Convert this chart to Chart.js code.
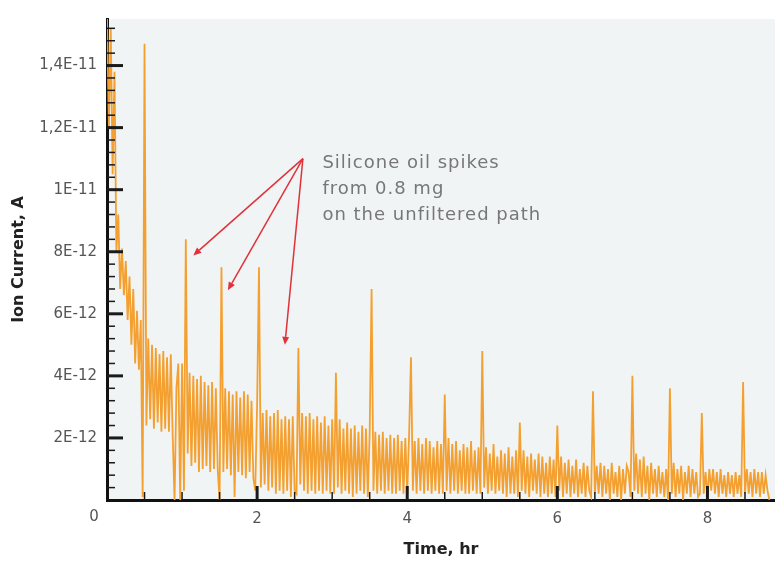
<!DOCTYPE html>
<html>
<head>
<meta charset="utf-8">
<script src="https://cdn.jsdelivr.net/npm/chart.js@4.4.1/dist/chart.umd.min.js"></script>
<style>
  body { margin: 0; background: #fff; }
</style>
</head>
<body>
<canvas id="ionChart" width="775" height="563"></canvas>
<script>
// time, hr (one row per half hour)
const times = [
  0,0.025,0.05,0.075,0.1,0.125,0.15,0.175,0.2,0.225,0.25,0.275,0.3,0.325,0.35,0.375,0.4,0.425,0.45,0.475,0.5,
  0.525,0.55,0.575,0.6,0.625,0.65,0.675,0.7,0.725,0.75,0.775,0.8,0.825,0.85,0.875,0.9,0.925,0.95,0.975,1,
  1.025,1.05,1.075,1.1,1.125,1.15,1.175,1.2,1.225,1.25,1.275,1.3,1.325,1.35,1.375,1.4,1.425,1.45,1.475,1.5,
  1.525,1.55,1.575,1.6,1.625,1.65,1.675,1.7,1.725,1.75,1.775,1.8,1.825,1.85,1.875,1.9,1.925,1.95,1.975,2,
  2.025,2.05,2.075,2.1,2.125,2.15,2.175,2.2,2.225,2.25,2.275,2.3,2.325,2.35,2.375,2.4,2.425,2.45,2.475,2.5,
  2.525,2.55,2.575,2.6,2.625,2.65,2.675,2.7,2.725,2.75,2.775,2.8,2.825,2.85,2.875,2.9,2.925,2.95,2.975,3,
  3.025,3.05,3.075,3.1,3.125,3.15,3.175,3.2,3.225,3.25,3.275,3.3,3.325,3.35,3.375,3.4,3.425,3.45,3.475,3.5,
  3.525,3.55,3.575,3.6,3.625,3.65,3.675,3.7,3.725,3.75,3.775,3.8,3.825,3.85,3.875,3.9,3.925,3.95,3.975,4,
  4.025,4.05,4.075,4.1,4.125,4.15,4.175,4.2,4.225,4.25,4.275,4.3,4.325,4.35,4.375,4.4,4.425,4.45,4.475,4.5,
  4.525,4.55,4.575,4.6,4.625,4.65,4.675,4.7,4.725,4.75,4.775,4.8,4.825,4.85,4.875,4.9,4.925,4.95,4.975,5,
  5.025,5.05,5.075,5.1,5.125,5.15,5.175,5.2,5.225,5.25,5.275,5.3,5.325,5.35,5.375,5.4,5.425,5.45,5.475,5.5,
  5.525,5.55,5.575,5.6,5.625,5.65,5.675,5.7,5.725,5.75,5.775,5.8,5.825,5.85,5.875,5.9,5.925,5.95,5.975,6,
  6.025,6.05,6.075,6.1,6.125,6.15,6.175,6.2,6.225,6.25,6.275,6.3,6.325,6.35,6.375,6.4,6.425,6.45,6.475,6.5,
  6.525,6.55,6.575,6.6,6.625,6.65,6.675,6.7,6.725,6.75,6.775,6.8,6.825,6.85,6.875,6.9,6.925,6.95,6.975,7,
  7.025,7.05,7.075,7.1,7.125,7.15,7.175,7.2,7.225,7.25,7.275,7.3,7.325,7.35,7.375,7.4,7.425,7.45,7.475,7.5,
  7.525,7.55,7.575,7.6,7.625,7.65,7.675,7.7,7.725,7.75,7.775,7.8,7.825,7.85,7.875,7.9,7.925,7.95,7.975,8,
  8.025,8.05,8.075,8.1,8.125,8.15,8.175,8.2,8.225,8.25,8.275,8.3,8.325,8.35,8.375,8.4,8.425,8.45,8.475,8.5,
  8.525,8.55,8.575,8.6,8.625,8.65,8.675,8.7,8.725,8.75,8.775,8.8,8.825
];

// ion current in units of 1E-12 A
const ionCurrentPA = [
  15.6,12.0,15.2,10.5,13.8,8.0,9.2,6.8,8.1,6.6,7.7,5.8,7.2,5.0,6.8,4.4,6.1,4.2,5.8,0.1,14.7,
  2.4,5.2,2.6,5.0,2.3,4.9,2.5,4.7,2.2,4.8,2.3,4.6,2.2,4.7,2.1,0.0,3.6,4.4,0.0,4.4,
  0.3,8.4,1.5,4.1,1.1,4.0,1.2,3.9,0.9,4.0,1.0,3.8,1.1,3.7,0.9,3.8,1.0,3.6,1.0,0.0,
  7.5,0.9,3.6,1.0,3.5,0.8,3.4,0.1,3.5,0.9,3.3,0.8,3.5,0.7,3.4,0.9,3.2,0.7,0.3,3.1,
  7.5,0.4,2.8,0.5,2.9,0.3,2.7,0.4,2.8,0.2,2.9,0.3,2.6,0.2,2.7,0.3,2.6,0.1,2.7,0.3,
  0.2,4.9,0.5,2.8,0.3,2.7,0.2,2.8,0.3,2.6,0.2,2.7,0.3,2.5,0.2,2.7,0.3,2.4,0.2,2.6,
  0.2,4.1,0.4,2.6,0.2,2.3,0.3,2.5,0.2,2.3,0.1,2.4,0.2,2.2,0.3,2.4,0.2,2.3,0.1,2.2,
  6.8,0.3,2.2,0.2,2.1,0.3,2.2,0.2,2.0,0.3,2.1,0.2,2.0,0.2,2.1,0.3,1.9,0.2,2.0,0.2,
  2.1,4.6,0.3,1.9,0.2,2.0,0.3,1.8,0.2,2.0,0.3,1.9,0.2,1.7,0.3,1.9,0.2,1.8,0.2,3.4,
  0.3,2.0,0.2,1.8,0.3,1.9,0.2,1.6,0.3,1.8,0.2,1.7,0.2,1.9,0.3,1.6,0.2,1.7,0.2,4.8,
  0.4,1.7,0.2,1.5,0.3,1.8,0.2,1.4,0.3,1.6,0.2,1.5,0.1,1.7,0.2,1.4,0.2,1.6,0.1,2.5,
  0.3,1.6,0.2,1.4,0.1,1.5,0.3,1.3,0.2,1.5,0.1,1.4,0.2,1.2,0.1,1.4,0.2,1.3,0.1,2.4,
  0.3,1.4,0.1,1.2,0.2,1.3,0.1,1.1,0.2,1.3,0.1,1.0,0.2,1.2,0.1,1.1,0.3,0.1,3.5,0.2,
  1.1,0.2,1.2,0.1,1.1,0.2,1.0,0.0,1.2,0.2,0.9,0.1,1.1,0.0,1.0,0.2,1.1,0.9,0.1,4.0,
  0.3,1.5,0.2,1.3,0.1,1.4,0.2,1.1,0.0,1.2,0.2,1.0,0.1,1.1,0.2,0.9,0.1,1.0,0.0,3.6,
  0.2,1.2,0.1,1.0,0.2,1.1,0.0,0.9,0.2,1.1,0.1,1.0,0.2,0.9,0.1,0.2,2.8,0.2,0.9,0.1,
  1.0,0.3,1.0,0.2,0.9,0.1,1.0,0.2,0.8,0.1,0.9,0.2,0.8,0.1,0.9,0.2,0.8,0.1,3.8,0.2,
  1.0,0.2,0.9,0.1,1.0,0.2,0.9,0.1,0.9,0.2,0.8,0.3,0.0
];

const xTickValues = [0, 2, 4, 6, 8];
const xTickLabels = ['0', '2', '4', '6', '8'];
const xMinorTicks = [0.5, 1, 1.5, 2.5, 3, 3.5, 4.5, 5, 5.5, 6.5, 7, 7.5, 8.5];

const yTickValues = [2, 4, 6, 8, 10, 12, 14];
const yTickLabels = ['2E-12', '4E-12', '6E-12', '8E-12', '1E-11', '1,2E-11', '1,4E-11'];
const yMinorTicks = [0.4, 0.8, 1.2, 1.6, 2.4, 2.8, 3.2, 3.6, 4.4, 4.8, 5.2, 5.6, 6.4, 6.8, 7.2, 7.6,
  8.4, 8.8, 9.2, 9.6, 10.4, 10.8, 11.2, 11.6, 12.4, 12.8, 13.2, 13.6, 14.4, 14.8, 15.2];

// callout: text anchor, arrow start and the spikes it points at (data units)
const calloutLines = ['Silicone oil spikes', 'from 0.8 mg', 'on the unfiltered path'];
const calloutText = { x: 2.87, y: 10.85 };
const calloutFrom = { x: 2.61, y: 11.0 };
const calloutTargets = [
  { x: 1.15, y: 7.88 },
  { x: 1.61, y: 6.76 },
  { x: 2.37, y: 5.0 }
];

const points = times.map((t, i) => ({ x: t, y: ionCurrentPA[i] }));

const tickFont = { family: 'DejaVu Sans', size: 15 };
const titleFont = { family: 'DejaVu Sans', size: 16, weight: 'bold' };

function arrow(ctx, x1, y1, x2, y2) {
  const a = Math.atan2(y2 - y1, x2 - x1);
  const len = 8, half = 3.5;
  const bx = x2 - len * Math.cos(a), by = y2 - len * Math.sin(a);
  ctx.beginPath();
  ctx.moveTo(x1, y1);
  ctx.lineTo(bx, by);
  ctx.stroke();
  ctx.beginPath();
  ctx.moveTo(x2, y2);
  ctx.lineTo(bx + half * Math.sin(a), by - half * Math.cos(a));
  ctx.lineTo(bx - half * Math.sin(a), by + half * Math.cos(a));
  ctx.closePath();
  ctx.fill();
}

const decorations = {
  id: 'decorations',
  beforeDraw(chart) {
    const { ctx, chartArea: a } = chart;
    ctx.save();
    ctx.fillStyle = '#f1f4f5';
    ctx.fillRect(a.left, a.top, a.right - a.left, a.bottom - a.top);
    ctx.restore();
  },
  afterDatasetsDraw(chart) {
    const { ctx, chartArea: a, scales: { x, y } } = chart;
    ctx.save();
    ctx.strokeStyle = '#1a1a1a';

    // tick marks point into the plot
    ctx.lineWidth = 1.5;
    yMinorTicks.forEach(v => {
      const py = y.getPixelForValue(v);
      ctx.beginPath(); ctx.moveTo(a.left, py); ctx.lineTo(a.left + 8, py); ctx.stroke();
    });
    xMinorTicks.forEach(v => {
      const px = x.getPixelForValue(v);
      ctx.beginPath(); ctx.moveTo(px, a.bottom); ctx.lineTo(px, a.bottom - 8); ctx.stroke();
    });
    ctx.lineWidth = 3;
    yTickValues.forEach(v => {
      const py = y.getPixelForValue(v);
      ctx.beginPath(); ctx.moveTo(a.left, py); ctx.lineTo(a.left + 16, py); ctx.stroke();
    });
    xTickValues.slice(1).forEach(v => {
      const px = x.getPixelForValue(v);
      ctx.beginPath(); ctx.moveTo(px, a.bottom); ctx.lineTo(px, a.bottom - 14); ctx.stroke();
    });

    // shared origin label sits left of the corner
    ctx.font = '15px "DejaVu Sans"';
    ctx.fillStyle = '#555';
    ctx.textAlign = 'center';
    ctx.textBaseline = 'top';
    ctx.fillText(xTickLabels[0], x.getPixelForValue(0) - 13, a.bottom + 10);

    // callout
    ctx.strokeStyle = '#e0323a';
    ctx.fillStyle = '#e0323a';
    ctx.lineWidth = 1.5;
    const fx = x.getPixelForValue(calloutFrom.x), fy = y.getPixelForValue(calloutFrom.y);
    calloutTargets.forEach(p => arrow(ctx, fx, fy, x.getPixelForValue(p.x), y.getPixelForValue(p.y)));

    ctx.font = '18px "DejaVu Sans"';
    ctx.letterSpacing = '1px';
    ctx.fillStyle = '#777';
    ctx.textAlign = 'left';
    ctx.textBaseline = 'middle';
    const tx = x.getPixelForValue(calloutText.x), ty = y.getPixelForValue(calloutText.y);
    calloutLines.forEach((s, i) => ctx.fillText(s, tx, ty + i * 26));
    ctx.restore();
  }
};

new Chart(document.getElementById('ionChart'), {
  type: 'line',
  data: {
    datasets: [{
      data: points,
      borderColor: '#f4a030',
      borderWidth: 1.8,
      pointRadius: 0,
      tension: 0,
      fill: false
    }]
  },
  options: {
    responsive: false,
    animation: false,
    layout: { padding: { top: 14, right: 0, left: 0, bottom: 0 } },
    plugins: { legend: { display: false }, tooltip: { enabled: false } },
    scales: {
      x: {
        type: 'linear',
        min: 0,
        max: 8.9,
        grid: { display: false, drawTicks: false },
        border: { display: true, color: '#111', width: 3 },
        afterBuildTicks: s => { s.ticks = xTickValues.map(v => ({ value: v })); },
        afterFit: s => { s.height = 63; },
        ticks: {
          autoSkip: false,
          maxRotation: 0,
          padding: 10,
          color: '#555',
          font: tickFont,
          callback: (v) => v === 0 ? '' : xTickLabels[xTickValues.indexOf(v)]
        },
        title: {
          display: true,
          text: 'Time, hr',
          color: '#222',
          font: titleFont,
          padding: { top: 0, bottom: 4 }
        }
      },
      y: {
        min: 0,
        max: 15.5,
        grid: { display: false, drawTicks: false },
        border: { display: true, color: '#111', width: 3 },
        afterBuildTicks: s => { s.ticks = yTickValues.map(v => ({ value: v })); },
        afterFit: s => { s.width = 107; },
        ticks: {
          autoSkip: false,
          padding: 10,
          color: '#555',
          font: tickFont,
          callback: (v) => yTickLabels[yTickValues.indexOf(v)]
        },
        title: {
          display: true,
          text: 'Ion Current, A',
          color: '#222',
          font: titleFont,
          padding: { top: 9, bottom: 0 }
        }
      }
    }
  },
  plugins: [decorations]
});
</script>
</body>
</html>
